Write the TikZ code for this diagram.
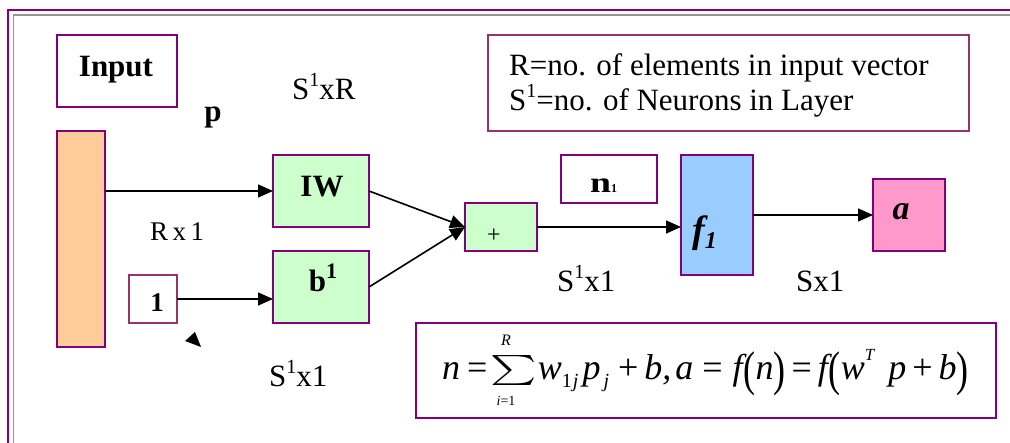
\documentclass[tikz,border=0pt]{standalone}
\usepackage{fontspec}
\usepackage{graphicx}
\setmainfont{Liberation Serif}
\usetikzlibrary{arrows.meta}
\definecolor{pframe}{RGB}{128,0,128}
\definecolor{mauve}{RGB}{153,51,102}
\definecolor{gframe}{RGB}{150,150,150}
\definecolor{orangefill}{RGB}{255,204,153}
\definecolor{greenfill}{RGB}{204,255,204}
\definecolor{bluefill}{RGB}{153,204,255}
\definecolor{pinkfill}{RGB}{255,153,204}
\newcommand{\mysup}[1]{\raisebox{0.42em}{\fontsize{20}{20}\selectfont #1}}
\newcommand{\tallp}[1]{\raisebox{-0.14em}{\scalebox{1}[1.35]{#1}}}
\newcommand{\eqsub}[1]{\raisebox{-0.22em}{\fontsize{20}{20}\selectfont #1}}
\newcommand{\bigsum}{\raisebox{2pt}{\scalebox{4.4}[3.0]{\fontsize{10}{12}\selectfont$\sum$}}}
\tikzset{
  box/.style={draw=pframe, line width=1.6pt, inner sep=0pt, outer sep=0pt},
  mbox/.style={draw=mauve, line width=1.6pt, inner sep=0pt, outer sep=0pt},
  conn/.style={line width=1.6pt, -{Triangle[length=15pt,width=13pt]}},
  txt/.style={inner sep=0pt, anchor=base west, font=\fontsize{31}{36}\selectfont},
  btxt/.style={inner sep=0pt, anchor=base, font=\fontsize{31}{36}\selectfont\bfseries},
}
\begin{document}
\begin{tikzpicture}[x=1pt,y=-1pt]
\useasboundingbox (0,0) rectangle (1010,443);
% frame
\draw[pframe, line width=2pt] (8,443) -- (8,10) -- (1010,10);
\draw[gframe, line width=1.5pt] (13.5,443) -- (13.5,15) -- (1010,15);
% boxes
\node[box, minimum width=120pt, minimum height=72pt] (input) at (117,71) {};
\node[btxt] (inputtxt) at (116,77) {Input};
\node[box, fill=orangefill, minimum width=48pt, minimum height=216pt] (vec) at (81,239) {};
\node[box, fill=greenfill, minimum width=96pt, minimum height=72pt] (iw) at (321,191) {};
\node[btxt] (iwtxt) at (322,197) {IW};
\node[mbox, minimum width=48pt, minimum height=48pt] (one) at (153,299) {};
\node[btxt, font=\fontsize{27}{30}\selectfont\bfseries] (onetxt) at (157,312) {1};
\node[box, fill=greenfill, minimum width=96pt, minimum height=72pt] (b) at (321,287) {};
\node[btxt] (btxtn) at (323,292) {b\raisebox{0.42em}{\fontsize{22}{22}\selectfont\bfseries 1}};
\node[box, fill=greenfill, minimum width=72pt, minimum height=48pt] (plus) at (501,227) {};
\node[inner sep=0pt, font=\fontsize{24}{28}\selectfont] (plustxt) at (494,236) {+};
\node[box, minimum width=96pt, minimum height=48pt] (n1) at (609,179) {};
\node[inner sep=0pt, anchor=base west, font=\fontsize{29}{30}\selectfont\bfseries] (n1txt) at (590,193) {\scalebox{1.3}[1]{n}\fontsize{12}{12}\selectfont\bfseries 1};
\node[box, fill=bluefill, minimum width=72pt, minimum height=120pt] (f) at (717,215) {};
\node[inner sep=0pt, anchor=base west, font=\fontsize{38}{40}\selectfont\bfseries\itshape] (ftxt) at (692,243) {f\raisebox{-0.15em}{\fontsize{24}{24}\selectfont\itshape 1}};
\node[box, fill=pinkfill, minimum width=72pt, minimum height=72pt] (a) at (909,215) {};
\node[btxt, font=\fontsize{34}{36}\selectfont\bfseries\itshape] (atxt) at (901,220) {a};
\node[mbox, minimum width=481pt, minimum height=96pt] (legend) at (728.5,83) {};
\node[txt] (legend1) at (509,76) {R=no. of elements in input vector};
\node[txt] (legend2) at (509,111) {S\mysup{1}=no. of Neurons in Layer};
\node[box, minimum width=580pt, minimum height=95pt] (eq) at (706,370.5) {};
\node[inner sep=0pt, anchor=base west, font=\fontsize{36}{38}\selectfont\itshape] (eqtxt) at (442,380)
  {n\kern7pt\upshape=\kern3pt\bigsum\kern1pt\itshape w\eqsub{\upshape 1\kern1pt\itshape j}\kern4pt p\eqsub{\kern3pt\itshape j}\kern9pt\upshape+\kern6pt\itshape b,\kern4pt a\kern9pt\upshape=\kern10pt\itshape f\kern1pt\tallp{\upshape(}n\tallp{\upshape)}\kern6pt\upshape=\kern6pt\itshape f\kern1pt\tallp{\upshape(}w\raisebox{0.55em}{\fontsize{17}{17}\selectfont\itshape T}\kern14pt p\kern6pt\upshape+\kern6pt\itshape b\tallp{\upshape)}};
\node[inner sep=0pt, anchor=base, font=\fontsize{16}{16}\selectfont\itshape] (eqR) at (506,346) {R};
\node[inner sep=0pt, anchor=base, font=\fontsize{14}{14}\selectfont\itshape] (eqi) at (506,406) {i\upshape=1};
% labels
\node[btxt] (plab) at (213,122) {p};
\node[txt] (s1r) at (292,100) {S\mysup{1}xR};
\node[txt, font=\fontsize{27}{30}\selectfont] (rx1) at (150,241) {R\,x\,1};
\node[txt] (s1x1a) at (269,387) {S\mysup{1}x1};
\node[txt] (s1x1b) at (557,292) {S\mysup{1}x1};
\node[txt] (sx1) at (796,292) {Sx1};
% connectors
\draw[conn] (vec.east |- iw.west) -- (iw.west);
\draw[conn] (one.east) -- (b.west |- one.east);
\draw[conn] (iw.east) -- (plus.west);
\draw[conn] (b.east) -- (plus.west);
\draw[conn] (plus.east) -- (f.west |- plus.east);
\draw[conn] (f.east |- a.west) -- (a.west);
% stray arrowhead
\fill (185,341) -- (195,332) -- (201,347) -- cycle;
\end{tikzpicture}
\end{document}
